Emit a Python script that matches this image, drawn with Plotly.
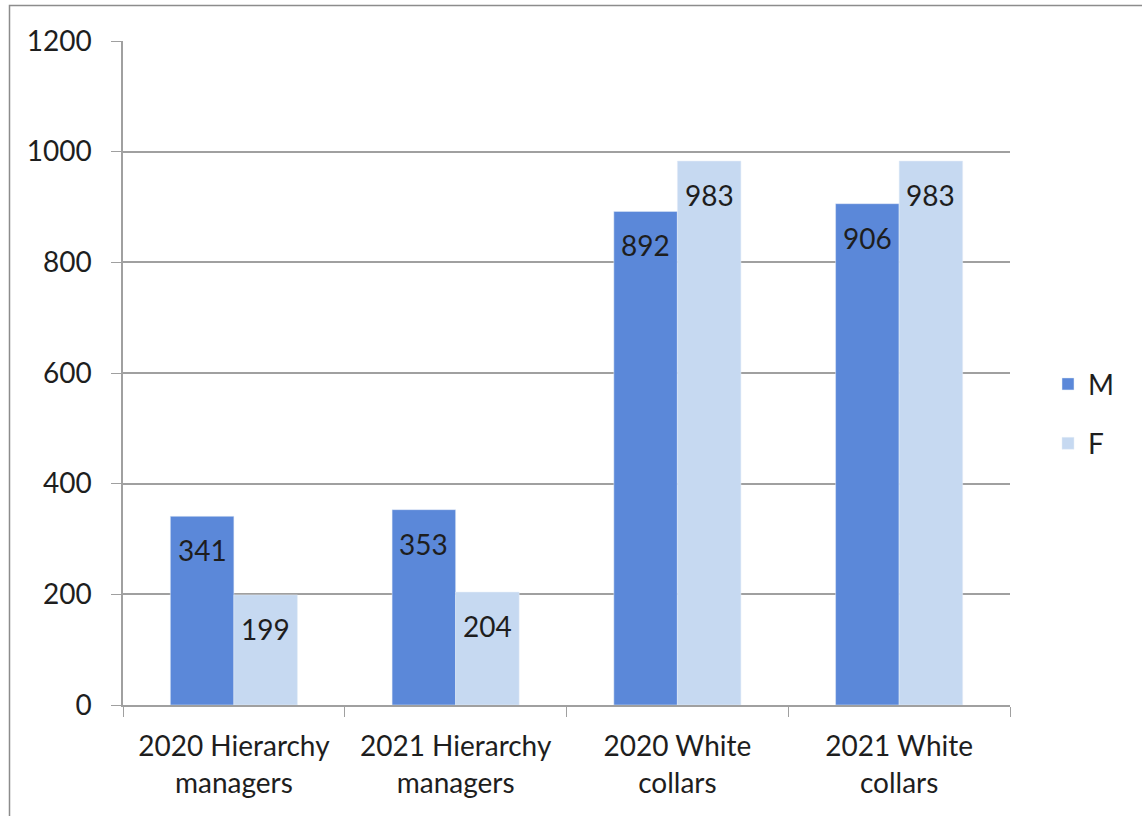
import plotly.graph_objects as go

# Headcount by category and gender
categories = [
    "2020 Hierarchy<br>managers",
    "2021 Hierarchy<br>managers",
    "2020 White<br>collars",
    "2021 White<br>collars",
]
male = [341, 353, 892, 906]
female = [199, 204, 983, 983]

y_ticks = [0, 200, 400, 600, 800, 1000, 1200]

M_COLOR = "#5B88D9"
F_COLOR = "#C6D9F1"
GRID = "#A0A0A0"
TEXT = "#1E1E1E"
FONT = "Lato"

fig = go.Figure()
fig.add_trace(go.Bar(name="M", x=categories, y=male, marker_color=M_COLOR,
                     legendgroup="M"))
fig.add_trace(go.Bar(name="F", x=categories, y=female, marker_color=F_COLOR,
                     legendgroup="F"))

# Value labels placed just inside the top of each bar
bar_half = 31.75
for series, shift in ((male, -bar_half), (female, bar_half)):
    for cat, val in zip(categories, series):
        fig.add_annotation(x=cat, y=val, text=str(val), showarrow=False,
                           xshift=shift, yshift=-34, yanchor="middle",
                           font=dict(family=FONT, size=28, color=TEXT))

# Outer chart frame
fig.add_shape(type="rect", xref="paper", yref="paper",
              x0=(9.5 - 123) / 887, x1=(1160 - 123) / 887,
              y0=(705.5 - 830) / 664.5, y1=(705.5 - 5.5) / 664.5,
              line=dict(color="#8C8C8C", width=1.5), fillcolor="rgba(0,0,0,0)",
              layer="below")

fig.update_layout(
    width=1142, height=816,
    margin=dict(l=123, r=132, t=41, b=110.5),
    paper_bgcolor="white", plot_bgcolor="white",
    barmode="group", bargap=0.427, bargroupgap=0,
    font=dict(family=FONT, size=28, color=TEXT),
    showlegend=True,
    legend=dict(x=(1048 - 123) / 887, xanchor="left",
                y=(705.5 - 414) / 664.5, yanchor="middle",
                tracegroupgap=20, traceorder="grouped",
                font=dict(family=FONT, size=28, color=TEXT)),
    xaxis=dict(type="category", tickson="boundaries", ticks="outside",
               ticklen=10, tickcolor=GRID, showline=True, linecolor=GRID,
               linewidth=1.5, showgrid=False, ticklabelstandoff=16),
    yaxis=dict(range=[0, 1200], tickvals=y_ticks, ticks="outside", ticklen=10,
               tickcolor=GRID, showline=True, linecolor=GRID, linewidth=1.5,
               gridcolor=GRID, gridwidth=1.5, zeroline=False,
               ticklabelstandoff=14),
)

fig.write_html("out.html")
